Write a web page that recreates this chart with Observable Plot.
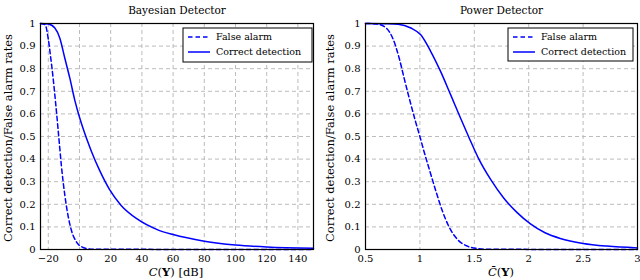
<!DOCTYPE html>
<html>
<head>
<meta charset="utf-8">
<script src="https://cdn.jsdelivr.net/npm/d3@7"></script>
<script src="https://cdn.jsdelivr.net/npm/@observablehq/plot@0.6"></script>
<style>
  body { margin: 0; background: white; }
  #c { position: relative; width: 640px; height: 280px; overflow: hidden; font-family: 'DejaVu Serif', serif; }
  #c > svg { position: absolute; top: 0; }
  #c svg text { font-family: 'DejaVu Serif', serif; }
</style>
</head>
<body>
<div id="c"></div>
<script>
// ---- Data ----
const yTicks = [0, 0.1, 0.2, 0.3, 0.4, 0.5, 0.6, 0.7, 0.8, 0.9, 1];

// Bayesian detector
const bayesXTicks = [-20, 0, 20, 40, 60, 80, 100, 120, 140];
const bayesFaX = [-25, -22, -20.1, -18.4, -16.9, -15.4, -13.9, -12.6, -11.6, -10.5, -9.4, -7.3, -5.2, -2, 2.3, 7.6, 150];
const bayesFaY = [1, 0.995, 0.935, 0.846, 0.758, 0.655, 0.545, 0.445, 0.37, 0.3, 0.24, 0.148, 0.085, 0.034, 0.009, 0.001, 0];
const bayesCdX = [-25, -20, -15.8, -12.6, -9.4, -6.2, -3.0, 0, 2.3, 4.6, 7.6, 12.9, 19.3, 26.7, 37.4, 50.2, 60, 80, 100, 120, 150];
const bayesCdY = [1, 0.998, 0.98, 0.935, 0.846, 0.758, 0.66, 0.585, 0.535, 0.49, 0.435, 0.35, 0.265, 0.195, 0.133, 0.087, 0.066, 0.037, 0.02, 0.011, 0.005];

// Power detector
const powXTicks = [0.5, 1, 1.5, 2, 2.5, 3];
const powFaX = [0.5, 0.6, 0.69, 0.75, 0.81, 0.855, 0.91, 0.96, 1.0, 1.04, 1.08, 1.146, 1.207, 1.268, 1.344, 1.436, 1.53, 1.6, 3];
const powFaY = [1, 0.998, 0.98, 0.935, 0.846, 0.758, 0.655, 0.566, 0.5, 0.43, 0.365, 0.26, 0.17, 0.1, 0.045, 0.015, 0.004, 0.001, 0];
const powCdX = [0.5, 0.7, 0.8, 0.917, 1.008, 1.1, 1.19, 1.283, 1.375, 1.45, 1.542, 1.65, 1.77, 1.894, 2.016, 2.15, 2.29, 2.5, 2.72, 3];
const powCdY = [1, 0.999, 0.997, 0.98, 0.95, 0.876, 0.788, 0.684, 0.58, 0.497, 0.4, 0.31, 0.228, 0.163, 0.113, 0.074, 0.049, 0.027, 0.015, 0.007];

const seriesNames = ["False alarm", "Correct detection"];
const titles = ["Bayesian Detector", "Power Detector"];
const yLabel = "Correct detection/False alarm rates";

// ---- Helpers ----
const FONT = "'DejaVu Serif', serif";
const BLUE = "#0000ff";
const DASH = "4.5,3";
const toRows = (xs, ys) => xs.map((x, i) => ({x, y: ys[i]}));
const fmt = d => (d < 0 ? "\u2212" + Math.abs(d) : String(d));

function makePlot({domain, xTicks, fa, cd, title, marginLeft, marginRight}) {
  return Plot.plot({
    width: 320,
    height: 280,
    marginLeft, marginRight,
    marginTop: 23,
    marginBottom: 31,
    style: {fontFamily: FONT, fontSize: "10px", background: "white", color: "black", overflow: "visible"},
    x: {domain, ticks: xTicks, tickFormat: fmt, tickSize: 0, tickPadding: 5, label: null},
    y: {domain: [0, 1], ticks: yTicks, tickFormat: fmt, tickSize: 0, tickPadding: 5, label: null},
    marks: [
      Plot.gridX(xTicks, {stroke: "#b4b4b4", strokeOpacity: 1, strokeDasharray: "4,3", strokeWidth: 0.9}),
      Plot.gridY(yTicks, {stroke: "#b4b4b4", strokeOpacity: 1, strokeDasharray: "4,3", strokeWidth: 0.9}),
      Plot.line(cd, {x: "x", y: "y", stroke: BLUE, strokeWidth: 1.5, curve: "monotone-x"}),
      Plot.line(fa, {x: "x", y: "y", stroke: BLUE, strokeWidth: 1.5, strokeDasharray: DASH, curve: "monotone-x"}),
      Plot.frame({stroke: "black", strokeWidth: 1.2}),
      Plot.text([title], {frameAnchor: "top", dy: -17, fontSize: 10.5, fill: "black"})
    ]
  });
}

function addLegend(svg, x0, x1, y0, y1) {
  const g = d3.select(svg).append("g").attr("font-family", FONT).attr("font-size", 9.5).attr("text-anchor", "start");
  g.append("rect").attr("x", x0).attr("y", y0).attr("width", x1 - x0).attr("height", y1 - y0)
    .attr("fill", "white").attr("stroke", "black").attr("stroke-width", 1);
  const rows = [{name: seriesNames[0], dash: DASH}, {name: seriesNames[1], dash: null}];
  rows.forEach((r, i) => {
    const y = y0 + 9 + i * 15;
    g.append("line").attr("x1", x0 + 5).attr("x2", x0 + 27).attr("y1", y).attr("y2", y)
      .attr("stroke", BLUE).attr("stroke-width", 1.5).attr("stroke-dasharray", r.dash);
    g.append("text").attr("x", x0 + 33).attr("y", y).attr("dy", "0.35em")
      .attr("text-anchor", "start").attr("fill", "black").text(r.name);
  });
}

function addYLabel(svg, x, yc) {
  d3.select(svg).append("text")
    .attr("transform", `translate(${x},${yc}) rotate(-90)`)
    .attr("text-anchor", "middle").attr("dy", "0.35em")
    .attr("font-family", FONT).attr("font-size", 11.5)
    .attr("fill", "black").text(yLabel);
}

function addXLabel(svg, xc, y, parts) {
  const t = d3.select(svg).append("text")
    .attr("x", xc).attr("y", y).attr("text-anchor", "middle")
    .attr("font-family", FONT).attr("font-size", 11.5).attr("fill", "black");
  parts.forEach(p => {
    const s = t.append("tspan").text(p.t);
    if (p.i) s.attr("font-style", "italic");
    if (p.b) s.attr("font-weight", "bold");
  });
}

const c = document.getElementById("c");

const left = makePlot({
  domain: [-25, 150], xTicks: bayesXTicks,
  fa: toRows(bayesFaX, bayesFaY), cd: toRows(bayesCdX, bayesCdY),
  title: titles[0], marginLeft: 40, marginRight: 7
});
left.style.left = "0px";
c.appendChild(left);
addLegend(left, 183, 312, 28, 62);
addYLabel(left, 8, 138);
addXLabel(left, 176, 276, [{t: "C", i: true}, {t: "("}, {t: "Y", b: true}, {t: ") [dB]"}]);

const right = makePlot({
  domain: [0.5, 3], xTicks: powXTicks,
  fa: toRows(powFaX, powFaY), cd: toRows(powCdX, powCdY),
  title: titles[1], marginLeft: 45, marginRight: 3
});
right.style.left = "320px";
c.appendChild(right);
addLegend(right, 188, 313, 28, 61);
addYLabel(right, 10, 138);
addXLabel(right, 181, 276, [{t: "C\u0304", i: true}, {t: "("}, {t: "Y", b: true}, {t: ")"}]);
</script>
</body>
</html>
